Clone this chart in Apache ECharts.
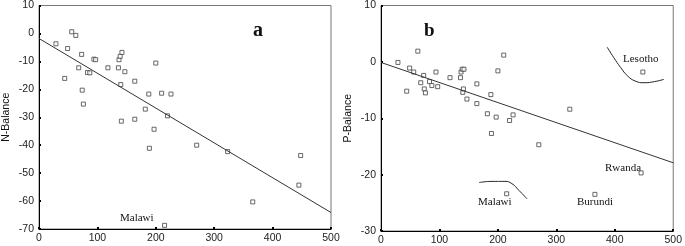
<!DOCTYPE html>
<html><head><meta charset="utf-8">
<script src="https://cdn.jsdelivr.net/npm/echarts@6/dist/echarts.min.js"></script>
<style>html,body{margin:0;padding:0;background:#fff}#c{width:685px;height:246px}</style>
</head><body><div id="c"></div>
<script>
const xTicks = [0, 100, 200, 300, 400, 500];
const nYTicks = [10, 0, -10, -20, -30, -40, -50, -60, -70];
const pYTicks = [10, 0, -10, -20, -30];

const xVals = [29,49,56,63,44,73,68,74,76,83,87,94,97,118,136,137,139,142,140,141,147,164,164,182,188,189,197,200,210,226,220,215,270,323,366,445,448];
const nBalance = [-3.7,-5.4,0.6,-0.7,-16.1,-7.5,-12.3,-20.3,-25.3,-14.0,-14.1,-9.2,-9.4,-12.3,-12.3,-9.4,-8.2,-6.8,-18.3,-31.4,-13.7,-17.1,-30.7,-27.1,-21.7,-41.1,-34.3,-10.6,-21.4,-21.7,-29.5,-68.7,-40.0,-42.3,-60.3,-54.3,-43.7];
const pBalance = [-0.1,-1.1,-1.8,1.9,-5.2,-2.4,-3.7,-4.8,-5.5,-3.5,-4.2,-1.8,-4.4,-2.8,-2.8,-1.8,-1.3,-1.3,-5.4,-4.8,-6.6,-3.9,-7.4,-9.2,-5.8,-12.7,-9.8,-1.6,1.2,-9.4,-10.4,-23.4,-14.7,-8.4,-23.5,-19.7,-1.8];

const nFitX = [0, 500];
const nFitY = [-1.8, -64.1];
const pFitX = [0, 500];
const pFitY = [-0.1, -17.9];

const lesothoCurveX = [387, 398, 410, 422, 435, 450, 468, 484];
const lesothoCurveY = [2.6, 0.8, -1.0, -2.5, -3.4, -3.7, -3.5, -3.1];
const malawiCurveX = [168, 190, 212, 224, 236, 250];
const malawiCurveY = [-21.4, -21.2, -21.2, -21.6, -22.8, -24.3];

const pairs = (xs, ys) => xs.map((x, i) => [x, ys[i]]);

const chart = echarts.init(document.getElementById('c'));
const axisFont = {fontFamily: 'Liberation Sans, Arial, sans-serif', fontSize: 10.5, color: '#222'};
function xAxisCfg(gi) {
  return {
    type: 'value', gridIndex: gi, min: 0, max: 500, interval: 100,
    axisLine: {show: true, onZero: false, lineStyle: {color: '#000', width: 1}},
    axisTick: {show: true, length: 2, inside: true, lineStyle: {color: '#000', width: 2}},
    axisLabel: Object.assign({margin: 4}, axisFont),
    splitLine: {show: false}
  };
}
function yAxisCfg(gi, min, max, name) {
  return {
    type: 'value', gridIndex: gi, min: min, max: max, interval: 10,
    name: name, nameLocation: 'middle', nameGap: 27,
    nameTextStyle: {fontFamily: 'Liberation Sans, Arial, sans-serif', fontSize: 10.5, color: '#111'},
    axisLine: {show: true, onZero: false, lineStyle: {color: '#000', width: 1}},
    axisTick: {show: true, length: 2, inside: true, lineStyle: {color: '#000', width: 2}},
    axisLabel: Object.assign({margin: 5}, axisFont),
    splitLine: {show: false}
  };
}
const sym = {color: '#fff', borderColor: '#444', borderWidth: 1};
const serif = 'Liberation Serif, Times New Roman, serif';
function txt(x, y, t, size, bold) {
  return {type: 'text', x: x, y: y, style: {text: t, font: (bold ? 'bold ' : '') + size + 'px ' + serif, fill: '#111', textVerticalAlign: 'middle'}};
}
chart.setOption({
  animation: false,
  grid: [
    {left: 36, top: 5, width: 295, height: 224, show: true, borderColor: '#777', borderWidth: 1},
    {left: 381, top: 5, width: 295, height: 227, show: true, borderColor: '#777', borderWidth: 1}
  ],
  xAxis: [xAxisCfg(0), xAxisCfg(1)],
  yAxis: [yAxisCfg(0, -70, 10, 'N-Balance'), yAxisCfg(1, -30, 10, 'P-Balance')],
  series: [
    {type: 'line', xAxisIndex: 0, yAxisIndex: 0, data: pairs(nFitX, nFitY), symbol: 'none', lineStyle: {color: '#333', width: 1}},
    {type: 'scatter', xAxisIndex: 0, yAxisIndex: 0, data: pairs(xVals, nBalance), symbol: 'rect', symbolSize: 4, itemStyle: sym},
    {type: 'line', xAxisIndex: 1, yAxisIndex: 1, data: pairs(pFitX, pFitY), symbol: 'none', lineStyle: {color: '#333', width: 1}},
    {type: 'scatter', xAxisIndex: 1, yAxisIndex: 1, data: pairs(xVals, pBalance), symbol: 'rect', symbolSize: 4, itemStyle: sym},
    {type: 'line', xAxisIndex: 1, yAxisIndex: 1, data: pairs(lesothoCurveX, lesothoCurveY), smooth: true, symbol: 'none', lineStyle: {color: '#222', width: 1}},
    {type: 'line', xAxisIndex: 1, yAxisIndex: 1, data: pairs(malawiCurveX, malawiCurveY), smooth: true, symbol: 'none', lineStyle: {color: '#222', width: 1}}
  ],
  graphic: [
    txt(253, 31, 'a', 20, true),
    txt(424, 31, 'b', 19, true),
    txt(120, 218, 'Malawi', 11, false),
    txt(623, 59, 'Lesotho', 11, false),
    txt(605, 168, 'Rwanda', 11, false),
    txt(577, 202, 'Burundi', 11, false),
    txt(478, 202, 'Malawi', 11, false)
  ]
});
</script></body></html>
